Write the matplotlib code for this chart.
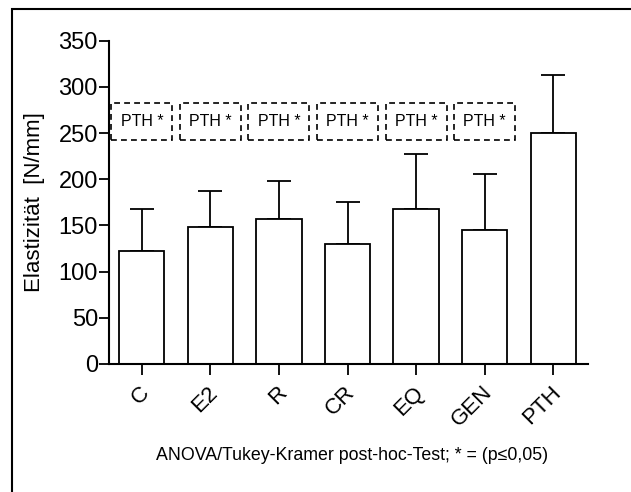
import matplotlib.pyplot as plt
from matplotlib.patches import Rectangle
from matplotlib.transforms import ScaledTranslation

plt.rcParams['font.family'] = ['Liberation Sans', 'DejaVu Sans']

# data
groups = ["C", "E2", "R", "CR", "EQ", "GEN", "PTH"]
means = [122, 148, 157, 130, 168, 145, 250]
upper = [168, 187, 198, 175, 227, 206, 313]
signif = [True, True, True, True, True, True, False]
sig_label = "PTH *"
box_low, box_high = 242, 283

errs = [u - m for u, m in zip(upper, means)]
x = list(range(len(groups)))

fig = plt.figure(figsize=(6.31, 4.92), dpi=100)
ax = fig.add_axes([0.1727, 0.2602, 0.932 - 0.1727, 0.9173 - 0.2602])

ax.bar(x, means, width=0.66, color="white", edgecolor="black", linewidth=1.3, zorder=2)
ax.errorbar(x, means, yerr=[[0] * len(errs), errs], fmt="none", ecolor="black",
            elinewidth=1.3, capsize=8.5, capthick=1.3, zorder=1)

# significance boxes
for xi, s in zip(x, signif):
    if not s:
        continue
    ax.add_patch(Rectangle((xi - 0.445, box_low), 0.89, box_high - box_low, fill=False,
                           edgecolor="black", linestyle=(0, (3.5, 2.5)), linewidth=1.2))
    ax.text(xi, (box_low + box_high) / 2, sig_label, ha="center", va="center", fontsize=11.5)

ax.set_xlim(-0.48, 6.51)
ax.set_ylim(0, 350)
ax.set_yticks(range(0, 351, 50))
ax.set_xticks(x)
ax.set_xticklabels(groups, rotation=45, ha="right", rotation_mode="anchor", fontsize=16)
ax.tick_params(axis="y", labelsize=17, length=7, width=1.3, direction="out", pad=1)
ax.tick_params(axis="x", length=8, width=1.3, direction="out", pad=5)
for lab in ax.get_xticklabels():
    lab.set_transform(lab.get_transform() + ScaledTranslation(-0.03, 0, fig.dpi_scale_trans))

for side in ["top", "right"]:
    ax.spines[side].set_visible(False)
for side in ["left", "bottom"]:
    ax.spines[side].set_linewidth(1.5)

ax.set_ylabel("Elastizität  [N/mm]", fontsize=16)
ax.yaxis.set_label_coords(-0.134, 0.5)

fig.text(352 / 631, 1 - 456 / 492, "ANOVA/Tukey-Kramer post-hoc-Test; * = (p≤0,05)",
         ha="center", va="center", fontsize=12.8)

# outer frame (clipped at right and bottom like the original)
fig.add_artist(Rectangle((12 / 631, -0.1), 1.2, (1 - 9 / 492) + 0.1, transform=fig.transFigure,
                         fill=False, edgecolor="black", linewidth=1.5))

fig.savefig("out.png", dpi=100)
